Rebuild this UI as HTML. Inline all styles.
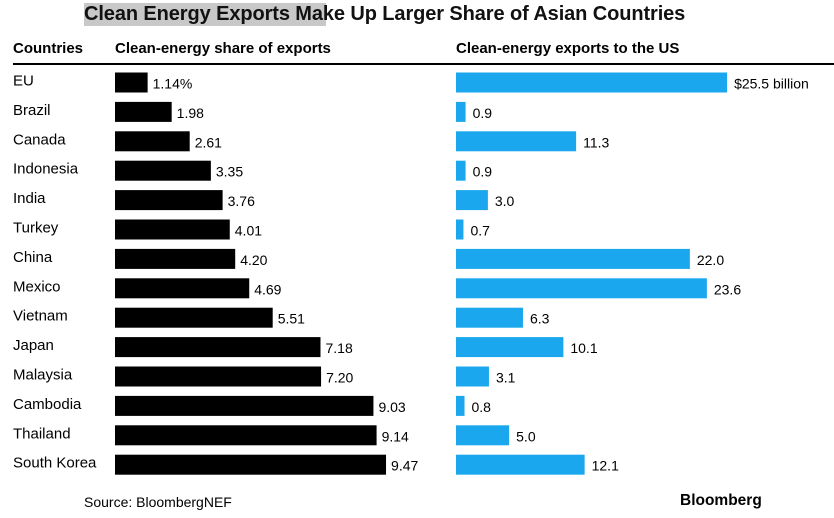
<!DOCTYPE html>
<html><head><meta charset="utf-8"><style>
body{margin:0;width:834px;height:518px;background:#fff;font-family:"Liberation Sans",sans-serif;overflow:hidden;position:relative}
.t{position:absolute;white-space:nowrap}
</style></head><body>
<div class="t" style="left:84px;top:3px;width:242px;height:23px;background:#c8c8c8"></div>
<div class="t" style="left:84px;top:3px;font-size:20px;font-weight:bold;color:#111;line-height:23px;letter-spacing:-0.1px">Clean Energy Exports Make Up Larger Share of Asian Countries</div>
<div class="t" style="left:13px;top:40px;font-size:15px;font-weight:bold">Countries</div>
<div class="t" style="left:115px;top:40px;font-size:15px;font-weight:bold">Clean-energy share of exports</div>
<div class="t" style="left:456px;top:40px;font-size:15px;font-weight:bold">Clean-energy exports to the US</div>
<div class="t" style="left:13px;top:63px;width:821px;height:2px;background:#000"></div>
<svg id="c" width="834" height="518" style="position:absolute;left:0;top:0"></svg>
<div class="t" style="left:84px;top:494px;font-size:14px">Source: BloombergNEF</div>
<div class="t" style="left:680px;top:492px;font-size:15.5px;font-weight:bold">Bloomberg</div>
<script>
const countries=["EU","Brazil","Canada","Indonesia","India","Turkey","China","Mexico","Vietnam","Japan","Malaysia","Cambodia","Thailand","South Korea"];
const shareValues=[1.14,1.98,2.61,3.35,3.76,4.01,4.20,4.69,5.51,7.18,7.20,9.03,9.14,9.47];
const shareLabels=["1.14%","1.98","2.61","3.35","3.76","4.01","4.20","4.69","5.51","7.18","7.20","9.03","9.14","9.47"];
const usValues=[25.5,0.9,11.3,0.9,3.0,0.7,22.0,23.6,6.3,10.1,3.1,0.8,5.0,12.1];
const usLabels=["$25.5 billion","0.9","11.3","0.9","3.0","0.7","22.0","23.6","6.3","10.1","3.1","0.8","5.0","12.1"];
const svg=document.getElementById('c');const NS="http://www.w3.org/2000/svg";
const y=i=>82.5+i*29.4;
const xL=v=>v*28.62, xR=v=>v*10.63;
function mk(t,a){const e=document.createElementNS(NS,t);for(const k in a)e.setAttribute(k,a[k]);svg.appendChild(e);return e;}
countries.forEach((c,i)=>{
 let t=mk('text',{x:13,y:y(i)+3,'font-size':15,fill:'#000'});t.textContent=c;
 
 let w=xL(shareValues[i]);
 let r=mk('rect',{x:115,y:y(i)-10,width:w,height:20,fill:'#000'});
 
 t=mk('text',{x:115+w+5,y:y(i)+6,'font-size':14,fill:'#000'});t.textContent=shareLabels[i];
 
 w=xR(usValues[i]);
 r=mk('rect',{x:456,y:y(i)-10,width:w,height:20,fill:'#1aa7ee'});
 
 t=mk('text',{x:456+w+7,y:y(i)+6,'font-size':14,fill:'#000'});t.textContent=usLabels[i];
 
});
</script>
</body></html>
